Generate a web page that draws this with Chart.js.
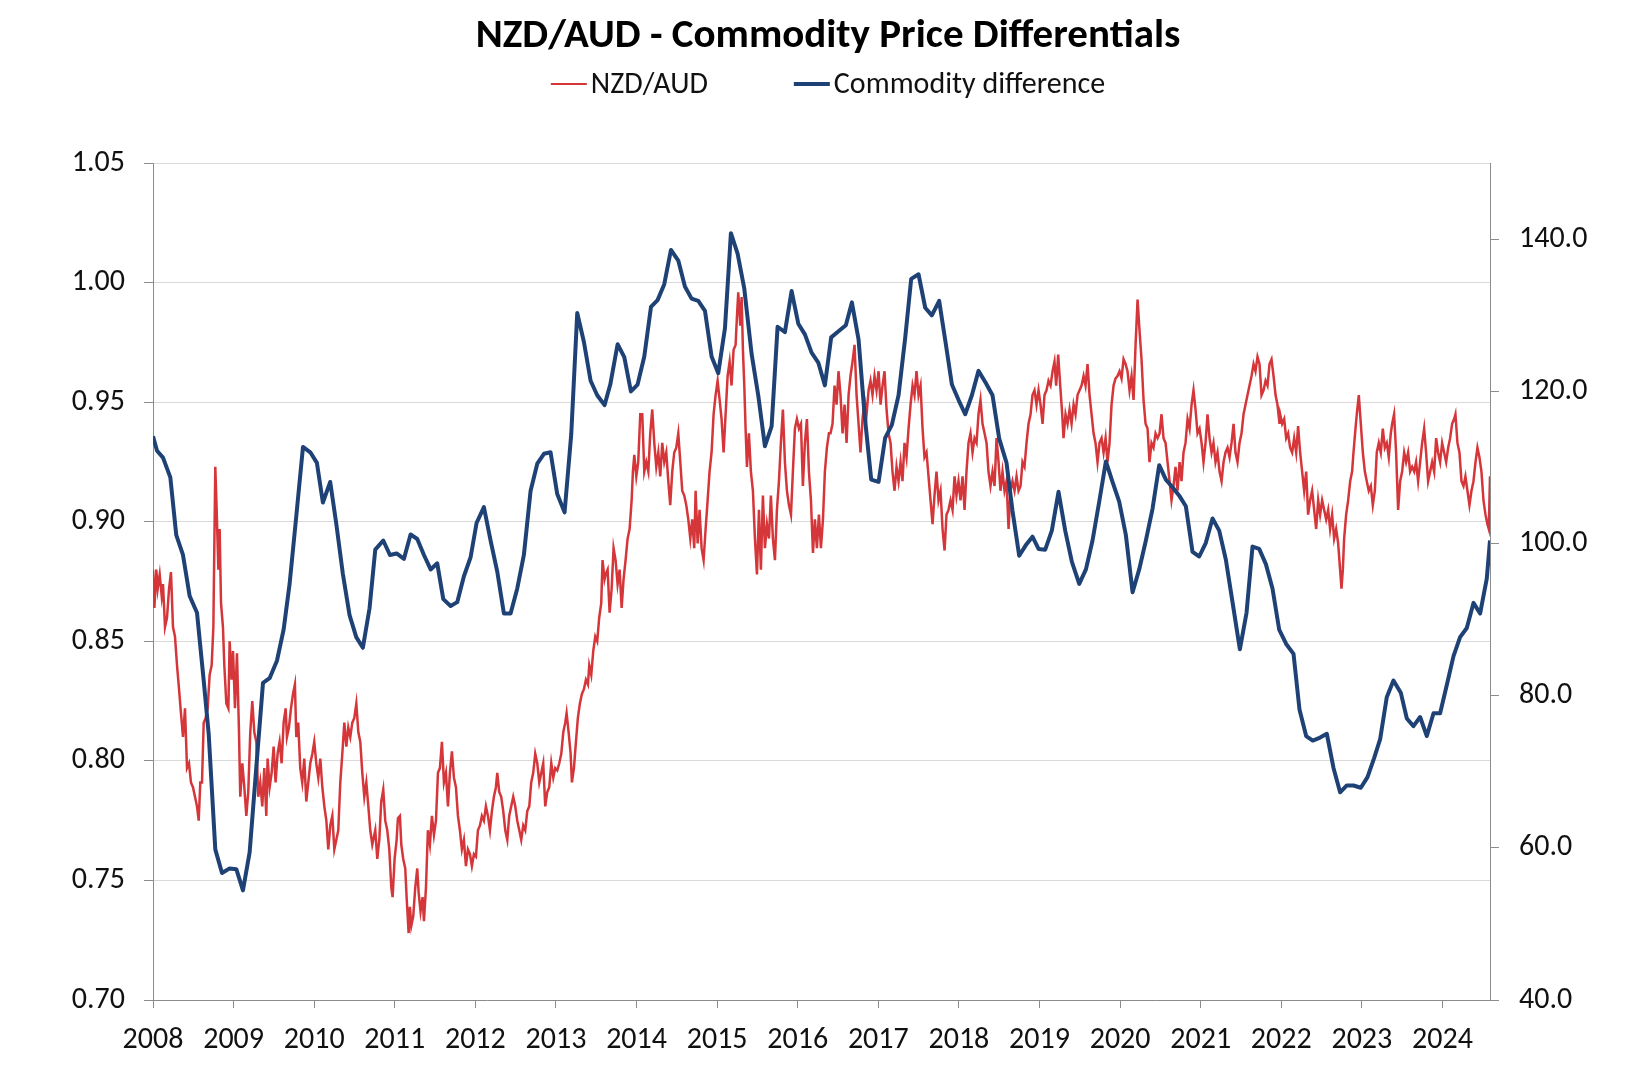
<!DOCTYPE html>
<html>
<head>
<meta charset="utf-8">
<title>NZD/AUD - Commodity Price Differentials</title>
<script src="https://cdn.jsdelivr.net/npm/chart.js@4.4.1/dist/chart.umd.min.js"></script>
<style>
  html, body { margin: 0; padding: 0; background: #fff; }
  #wrap { width: 1640px; height: 1088px; }
</style>
</head>
<body>
<div id="wrap"><canvas id="chart"></canvas></div>
<script>
// NZD/AUD spot (left axis)
const nzdYears = [
  2008.000,2008.017,2008.041,2008.058,2008.083,2008.108,2008.124,2008.149,2008.174,2008.199,2008.223,2008.248,2008.273,2008.298,2008.323,2008.347,2008.372,2008.397,2008.422,2008.447,2008.471,2008.496,2008.521,2008.546,2008.567,2008.587,2008.608,2008.629,2008.653,2008.678,2008.703,2008.728,2008.749,2008.773,2008.790,2008.811,2008.827,2008.844,2008.868,2008.885,2008.910,2008.935,2008.951,2008.976,2008.993,
  2009.017,2009.042,2009.067,2009.083,2009.108,2009.133,2009.158,2009.182,2009.207,2009.232,2009.257,2009.282,2009.306,2009.331,2009.356,2009.381,2009.406,2009.422,2009.447,2009.472,2009.497,2009.521,2009.546,2009.571,2009.596,2009.621,2009.646,2009.662,2009.687,2009.712,2009.737,2009.761,2009.778,2009.802,2009.827,2009.852,2009.877,2009.902,2009.927,2009.952,2009.977,
  2010.001,2010.026,2010.051,2010.076,2010.101,2010.126,2010.151,2010.175,2010.200,2010.225,2010.250,2010.275,2010.299,2010.324,2010.349,2010.374,2010.399,2010.423,2010.448,2010.473,2010.498,2010.523,2010.548,2010.572,2010.597,2010.622,2010.647,2010.672,2010.696,2010.721,2010.746,
  2010.758,2010.783,2010.808,2010.832,2010.857,2010.882,2010.907,2010.932,2010.957,2010.973,2010.998,
  2011.023,2011.039,2011.064,2011.081,2011.105,2011.130,2011.147,2011.172,2011.188,2011.205,2011.229,2011.254,2011.279,2011.296,2011.320,2011.345,2011.362,2011.387,2011.411,2011.436,2011.461,2011.486,2011.511,2011.536,2011.560,2011.585,2011.610,2011.635,2011.660,2011.684,2011.709,2011.734,2011.759,2011.784,2011.808,2011.833,2011.858,2011.883,2011.908,2011.933,2011.957,2011.982,
  2012.007,2012.032,2012.057,2012.081,2012.106,2012.131,2012.156,2012.181,2012.205,2012.230,2012.255,2012.272,2012.296,2012.321,2012.346,2012.371,2012.396,2012.420,2012.445,2012.470,2012.495,2012.520,2012.545,2012.569,2012.594,2012.619,2012.644,2012.669,2012.693,2012.718,2012.743,2012.768,2012.793,2012.818,2012.842,2012.867,2012.892,2012.917,2012.942,2012.967,2012.991,
  2013.016,2013.041,2013.066,2013.091,2013.115,2013.132,2013.157,2013.182,2013.198,2013.223,2013.248,2013.272,2013.297,2013.322,2013.347,2013.372,2013.397,2013.413,2013.438,2013.463,2013.488,2013.512,2013.537,2013.562,2013.578,2013.603,
  2013.616,2013.641,2013.666,2013.691,2013.715,2013.740,2013.765,2013.790,2013.815,2013.839,2013.864,2013.889,2013.914,2013.939,2013.955,2013.972,2013.997,
  2014.021,2014.046,2014.071,2014.096,2014.121,2014.146,2014.170,2014.195,2014.220,2014.245,2014.270,2014.294,2014.319,2014.344,2014.369,2014.394,2014.418,2014.443,2014.468,2014.493,2014.518,2014.543,2014.567,2014.592,2014.617,2014.642,2014.667,2014.691,2014.716,2014.733,2014.758,2014.782,2014.807,2014.832,2014.857,2014.882,2014.906,2014.931,2014.956,2014.981,
  2015.006,2015.031,2015.055,2015.080,2015.105,2015.130,2015.155,2015.179,2015.204,2015.229,2015.246,2015.262,2015.287,2015.304,2015.320,2015.337,2015.353,2015.370,2015.394,2015.419,2015.444,2015.469,2015.494,2015.519,2015.543,2015.568,2015.593,2015.618,2015.643,2015.667,2015.692,2015.717,2015.742,2015.767,2015.791,2015.816,2015.841,2015.866,2015.891,2015.916,2015.940,2015.965,2015.990,
  2016.015,2016.040,2016.064,2016.089,2016.114,2016.139,2016.164,2016.189,2016.213,2016.238,2016.263,2016.288,2016.313,2016.337,2016.362,2016.387,
  2016.407,2016.432,2016.457,2016.482,2016.506,2016.531,2016.556,2016.581,2016.606,2016.631,2016.655,2016.680,2016.705,2016.730,2016.755,2016.779,2016.804,2016.829,2016.854,2016.879,2016.903,2016.928,2016.953,2016.978,
  2017.003,2017.028,2017.052,2017.077,2017.102,2017.127,2017.152,2017.176,2017.201,2017.226,2017.251,2017.276,2017.300,2017.325,2017.350,2017.375,2017.400,2017.425,2017.449,2017.474,2017.499,2017.524,2017.549,2017.573,2017.598,2017.623,2017.648,2017.673,2017.697,2017.722,2017.747,2017.772,2017.797,2017.822,2017.846,2017.871,2017.896,2017.921,2017.946,2017.970,2017.995,
  2018.020,2018.045,2018.070,2018.094,2018.119,2018.144,2018.169,2018.194,2018.219,2018.243,2018.268,2018.293,2018.318,2018.343,2018.367,2018.392,2018.417,2018.442,2018.467,2018.492,2018.516,2018.541,2018.566,2018.591,2018.616,2018.640,2018.665,2018.690,2018.715,2018.740,2018.765,2018.789,2018.814,2018.839,2018.864,2018.889,2018.913,2018.938,2018.963,2018.988,
  2019.013,2019.038,2019.062,2019.087,2019.112,2019.137,2019.162,2019.186,
  2019.207,2019.232,2019.257,2019.282,2019.298,2019.323,2019.348,2019.373,2019.398,2019.423,2019.447,2019.472,2019.497,2019.522,2019.547,2019.571,2019.596,2019.621,2019.646,2019.671,2019.695,2019.720,2019.745,2019.770,2019.795,2019.820,2019.844,2019.869,2019.894,2019.919,2019.944,2019.968,2019.993,
  2020.018,2020.043,2020.068,2020.092,2020.117,2020.142,2020.167,2020.192,2020.217,2020.241,2020.266,2020.291,2020.316,2020.341,2020.365,2020.390,2020.415,2020.440,2020.465,2020.490,2020.514,2020.539,2020.564,2020.589,2020.614,2020.638,2020.663,2020.688,2020.713,2020.738,2020.762,2020.787,2020.812,2020.837,2020.862,2020.887,2020.911,2020.936,2020.961,2020.986,
  2021.011,2021.035,2021.060,2021.085,2021.110,2021.135,2021.159,2021.184,2021.209,2021.234,2021.259,2021.284,2021.308,2021.333,2021.358,2021.383,2021.408,2021.432,2021.457,2021.482,2021.507,2021.532,2021.556,2021.581,2021.606,2021.631,2021.656,2021.680,2021.705,2021.730,2021.755,2021.780,2021.805,2021.829,2021.854,2021.879,2021.904,2021.929,2021.953,2021.978,
  2021.986,
  2022.011,2022.036,2022.061,2022.085,2022.110,2022.135,2022.160,2022.185,2022.209,2022.234,2022.259,2022.284,2022.309,2022.333,2022.358,2022.383,2022.408,2022.433,2022.458,2022.482,2022.507,2022.532,2022.557,2022.582,2022.606,2022.631,2022.656,2022.681,2022.706,2022.730,2022.747,2022.764,2022.780,2022.805,2022.830,2022.855,2022.879,2022.896,2022.921,2022.937,2022.962,2022.987,
  2023.012,2023.037,2023.061,2023.086,2023.111,2023.136,2023.161,2023.185,2023.210,2023.235,2023.260,2023.285,2023.309,2023.334,2023.359,2023.376,2023.400,2023.425,2023.450,2023.475,2023.500,2023.525,2023.549,2023.574,2023.599,2023.624,2023.649,2023.673,2023.698,2023.723,2023.748,2023.773,2023.797,2023.822,2023.847,2023.872,2023.897,2023.922,2023.946,2023.971,2023.996,
  2024.021,2024.046,2024.071,2024.095,2024.120,2024.145,2024.161,2024.186,2024.211,2024.236,2024.261,2024.285,2024.310,2024.335,2024.360,2024.385,2024.410,2024.434,2024.459,2024.484,2024.509,2024.534,2024.558,2024.575,2024.590
];
const nzdValues = [
  0.880,0.864,0.880,0.872,0.878,0.869,0.874,0.856,0.860,0.872,0.879,0.856,0.852,0.840,0.830,0.820,0.810,0.822,0.797,0.799,0.791,0.789,0.785,0.781,0.775,0.791,0.791,0.816,0.818,0.822,0.836,0.840,0.856,0.923,0.905,0.880,0.897,0.866,0.856,0.840,0.824,0.822,0.850,0.834,0.846,
  0.822,0.845,0.812,0.785,0.799,0.789,0.777,0.787,0.812,0.825,0.812,0.808,0.785,0.791,0.781,0.797,0.777,0.801,0.789,0.795,0.806,0.791,0.803,0.808,0.799,0.816,0.822,0.810,0.814,0.822,0.828,0.832,0.810,0.816,0.797,0.791,0.801,0.783,0.791,0.799,0.803,
  0.808,0.799,0.793,0.801,0.789,0.781,0.775,0.763,0.773,0.777,0.763,0.767,0.771,0.791,0.803,0.816,0.806,0.814,0.810,0.816,0.818,0.824,0.812,0.808,0.795,0.785,0.791,0.781,0.771,0.765,0.769,
  0.771,0.759,0.767,0.783,0.788,0.775,0.771,0.763,0.747,0.743,0.759,
  0.767,0.776,0.777,0.765,0.759,0.755,0.743,0.728,0.739,0.731,0.735,0.747,0.755,0.745,0.737,0.743,0.733,0.747,0.771,0.765,0.777,0.769,0.775,0.795,0.797,0.808,0.791,0.795,0.781,0.795,0.804,0.793,0.789,0.777,0.771,0.763,0.767,0.756,0.763,0.761,0.756,0.761,
  0.760,0.771,0.773,0.777,0.775,0.781,0.777,0.771,0.779,0.785,0.789,0.795,0.787,0.785,0.779,0.771,0.767,0.777,0.781,0.785,0.781,0.775,0.771,0.767,0.773,0.771,0.779,0.781,0.791,0.795,0.803,0.799,0.791,0.795,0.799,0.781,0.787,0.789,0.799,0.793,0.797,
  0.796,0.799,0.803,0.812,0.816,0.820,0.812,0.803,0.791,0.797,0.808,0.818,0.824,0.828,0.830,0.834,0.832,0.840,0.836,0.846,0.852,0.850,0.860,0.866,0.884,0.876,
  0.878,0.880,0.862,0.872,0.889,0.884,0.874,0.880,0.864,0.876,0.884,0.893,0.897,0.909,0.921,0.928,0.919,
  0.925,0.945,0.945,0.921,0.925,0.921,0.937,0.947,0.933,0.923,0.929,0.919,0.933,0.925,0.929,0.917,0.907,0.921,0.929,0.931,0.937,0.925,0.913,0.911,0.907,0.901,0.893,0.901,0.889,0.913,0.891,0.905,0.889,0.884,0.897,0.909,0.921,0.929,0.945,0.953,
  0.959,0.951,0.943,0.929,0.945,0.961,0.967,0.957,0.972,0.974,0.986,0.996,0.982,0.994,0.972,0.957,0.939,0.923,0.937,0.921,0.913,0.893,0.878,0.905,0.880,0.911,0.889,0.899,0.893,0.911,0.893,0.884,0.905,0.917,0.933,0.947,0.925,0.913,0.907,0.903,0.921,0.939,0.943,
  0.939,0.941,0.915,0.933,0.943,0.921,0.909,0.887,0.901,0.889,0.903,0.889,0.901,0.921,0.931,0.937,
  0.937,0.941,0.957,0.949,0.963,0.953,0.937,0.949,0.933,0.953,0.961,0.967,0.974,0.953,0.941,0.929,0.943,0.951,0.945,0.955,0.959,0.953,0.961,0.955,
  0.963,0.949,0.957,0.963,0.947,0.937,0.933,0.921,0.913,0.923,0.917,0.925,0.917,0.933,0.927,0.939,0.949,0.957,0.953,0.963,0.953,0.957,0.939,0.927,0.929,0.919,0.909,0.899,0.911,0.921,0.909,0.913,0.897,0.888,0.903,0.905,0.909,0.905,0.919,0.911,0.917,
  0.909,0.919,0.905,0.921,0.933,0.937,0.929,0.935,0.933,0.945,0.951,0.941,0.937,0.933,0.921,0.915,0.921,0.915,0.935,0.925,0.913,0.921,0.913,0.917,0.897,0.913,0.917,0.913,0.919,0.913,0.915,0.925,0.923,0.933,0.941,0.945,0.953,0.955,0.949,0.955,
  0.949,0.941,0.953,0.955,0.959,0.957,0.963,0.967,
  0.957,0.970,0.957,0.945,0.935,0.945,0.941,0.947,0.941,0.949,0.945,0.953,0.955,0.957,0.961,0.957,0.966,0.953,0.945,0.937,0.933,0.925,0.933,0.935,0.929,0.935,0.925,0.933,0.949,0.957,0.960,0.961,0.963,
  0.960,0.968,0.966,0.963,0.955,0.961,0.951,0.974,0.993,0.980,0.968,0.951,0.941,0.939,0.925,0.933,0.931,0.937,0.935,0.937,0.945,0.935,0.933,0.925,0.917,0.909,0.915,0.923,0.913,0.925,0.917,0.929,0.933,0.943,0.939,0.949,0.955,0.947,0.937,0.939,
  0.933,0.925,0.933,0.945,0.935,0.929,0.933,0.925,0.929,0.921,0.917,0.925,0.929,0.931,0.927,0.933,0.941,0.929,0.925,0.933,0.937,0.945,0.949,0.953,0.957,0.961,0.966,0.963,0.969,0.966,0.953,0.955,0.959,0.957,0.966,0.968,0.961,0.953,0.949,0.941,
  0.945,
  0.941,0.943,0.935,0.937,0.931,0.929,0.935,0.929,0.940,0.929,0.921,0.913,0.921,0.903,0.909,0.913,0.905,0.897,0.909,0.903,0.909,0.905,0.901,0.905,0.897,0.903,0.893,0.897,0.891,0.880,0.872,0.880,0.893,0.903,0.909,0.917,0.921,0.929,0.939,0.945,0.953,0.941,
  0.929,0.921,0.917,0.913,0.915,0.907,0.913,0.929,0.933,0.929,0.939,0.931,0.933,0.927,0.937,0.941,0.945,0.929,0.905,0.917,0.921,0.929,0.925,0.929,0.921,0.923,0.921,0.925,0.917,0.925,0.933,0.939,0.929,0.917,0.921,0.925,0.921,0.935,0.929,0.925,0.933,
  0.929,0.925,0.931,0.935,0.941,0.943,0.945,0.933,0.929,0.917,0.915,0.919,0.913,0.907,0.913,0.917,0.925,0.931,0.927,0.921,0.909,0.903,0.899,0.897,0.919
];

// Commodity price difference index (right axis), roughly monthly
const commodityYears = [
  2008.000,2008.050,2008.124,2008.215,2008.289,2008.372,2008.455,2008.546,2008.629,2008.691,2008.773,2008.856,2008.951,
  2009.034,2009.116,2009.199,2009.282,2009.365,2009.447,2009.538,2009.621,2009.695,2009.778,2009.861,2009.952,
  2010.034,2010.108,2010.199,2010.273,2010.356,2010.439,2010.522,2010.604,2010.687,2010.758,2010.857,2010.940,
  2011.023,2011.114,2011.196,2011.279,2011.362,2011.445,2011.527,2011.602,2011.693,2011.775,2011.858,2011.941,
  2012.015,2012.106,2012.189,2012.272,2012.354,2012.437,2012.520,2012.602,2012.685,2012.768,2012.851,2012.933,
  2013.016,2013.107,2013.190,2013.264,2013.347,2013.430,2013.512,2013.603,2013.674,2013.765,2013.848,2013.930,
  2014.013,2014.096,2014.179,2014.261,2014.344,2014.427,2014.518,2014.600,2014.683,2014.766,2014.849,2014.931,
  2015.014,2015.097,2015.171,2015.254,2015.337,2015.428,2015.510,2015.593,2015.676,2015.750,2015.841,2015.924,
  2016.007,2016.089,2016.172,2016.255,2016.337,2016.415,2016.506,2016.597,2016.672,2016.755,2016.829,2016.912,
  2017.003,2017.085,2017.168,2017.251,2017.334,2017.408,2017.499,2017.582,2017.664,2017.755,2017.838,2017.913,2017.995,
  2018.078,2018.161,2018.243,2018.334,2018.417,2018.500,2018.591,2018.665,2018.748,2018.831,2018.913,2018.988,
  2019.071,2019.153,2019.236,2019.319,2019.402,2019.493,2019.576,2019.658,2019.741,2019.824,2019.906,2019.989,
  2020.072,2020.155,2020.237,2020.320,2020.403,2020.485,2020.568,2020.651,2020.734,2020.816,2020.899,2020.982,
  2021.064,2021.147,2021.230,2021.312,2021.395,2021.486,2021.569,2021.643,2021.726,2021.809,2021.891,2021.974,
  2022.061,2022.152,2022.226,2022.309,2022.391,2022.482,2022.565,2022.648,2022.730,2022.813,2022.896,2022.987,
  2023.070,2023.152,2023.227,2023.309,2023.392,2023.483,2023.558,2023.640,2023.723,2023.806,2023.889,2023.971,
  2024.054,2024.137,2024.219,2024.302,2024.385,2024.467,2024.550,2024.590
];
const commodityValues = [
  114.1,112.2,111.3,108.7,101.1,98.5,93.1,90.9,82.0,75.0,59.8,56.7,57.3,
  57.2,54.4,59.4,70.6,81.7,82.3,84.6,88.7,94.7,103.6,112.7,112.0,
  110.6,105.4,108.1,102.7,96.0,90.6,87.7,86.3,91.5,99.2,100.4,98.5,
  98.7,98.0,101.2,100.6,98.5,96.6,97.4,92.7,91.8,92.3,95.7,98.2,
  102.7,104.8,100.4,96.3,90.8,90.8,94.1,98.5,106.9,110.5,111.8,112.0,
  106.5,104.1,114.4,130.3,126.5,121.4,119.5,118.2,120.9,126.2,124.5,120.0,
  120.9,124.6,131.1,132.0,134.1,138.6,137.2,133.8,132.2,131.9,130.6,124.6,
  122.4,128.3,140.8,138.1,133.5,124.9,119.5,112.8,115.4,128.5,127.8,133.2,
  128.9,127.5,125.1,123.8,120.8,127.1,127.9,128.7,131.7,126.8,117.0,108.4,
  108.1,113.9,115.6,119.5,127.1,134.8,135.4,131.0,130.0,131.9,126.2,120.9,118.9,
  117.0,119.5,122.7,121.1,119.5,113.8,110.6,104.3,98.4,99.8,100.9,99.3,
  99.2,101.7,106.8,101.7,97.6,94.7,96.6,100.4,105.5,110.8,108.1,105.5,
  101.1,93.6,96.6,100.4,104.6,110.3,108.4,107.4,106.3,104.9,98.9,98.3,
  100.1,103.3,101.7,97.9,92.3,86.1,90.9,99.6,99.3,97.3,94.1,88.7,
  86.8,85.5,78.2,74.7,74.1,74.5,75.0,70.5,67.3,68.2,68.2,67.9,
  69.3,71.8,74.3,79.8,82.0,80.4,77.0,76.0,77.2,74.7,77.7,77.7,
  81.4,85.2,87.7,88.9,92.2,90.8,95.4,100.4
];

const yearLabels = [2008, 2009, 2010, 2011, 2012, 2013, 2014, 2015, 2016, 2017, 2018, 2019, 2020, 2021, 2022, 2023, 2024];
const leftTicks = [0.70, 0.75, 0.80, 0.85, 0.90, 0.95, 1.00, 1.05];
const rightTicks = [40, 60, 80, 100, 120, 140];

const FONT = 'Carlito, Lato, sans-serif';
const RED = '#d5363a';
const BLUE = '#1f4276';
const AXIS = '#8c8c8c';

Chart.defaults.font.family = FONT;
Chart.defaults.color = '#111';

// legend drawn as short line samples next to the labels, like the original
const lineLegend = {
  id: 'lineLegend',
  afterDraw(chart) {
    const ctx = chart.ctx;
    const items = chart.data.datasets.map(ds => ({ text: ds.label, color: ds.borderColor, width: ds.legendWidth }));
    ctx.save();
    ctx.font = '30px ' + FONT;
    ctx.textBaseline = 'middle';
    const sample = 36, gap = 4, spacing = 86;
    const widths = items.map(it => sample + gap + ctx.measureText(it.text).width);
    const total = widths.reduce((a, b) => a + b, 0) + spacing * (items.length - 1);
    let x = (chart.titleBlock.left + chart.titleBlock.right) / 2 - total / 2;
    const y = 84;
    items.forEach((it, i) => {
      ctx.strokeStyle = it.color;
      ctx.lineWidth = it.width;
      ctx.beginPath();
      ctx.moveTo(x, y);
      ctx.lineTo(x + sample, y);
      ctx.stroke();
      ctx.fillStyle = '#111';
      ctx.fillText(it.text, x + sample + gap, y + 1);
      x += widths[i] + spacing;
    });
    ctx.restore();
  }
};

const chart = new Chart(document.getElementById('chart'), {
  type: 'line',
  data: {
    datasets: [
      {
        label: 'NZD/AUD',
        data: nzdYears.map((x, i) => ({ x, y: nzdValues[i] })),
        yAxisID: 'y',
        borderColor: RED,
        borderWidth: 2.5,
        legendWidth: 2,
        pointRadius: 0,
        tension: 0,
        order: 2
      },
      {
        label: 'Commodity difference',
        data: commodityYears.map((x, i) => ({ x, y: commodityValues[i] })),
        yAxisID: 'y2',
        borderColor: BLUE,
        borderWidth: 4,
        legendWidth: 4,
        pointRadius: 0,
        tension: 0,
        borderJoinStyle: 'round',
        order: 1
      }
    ]
  },
  options: {
    responsive: true,
    maintainAspectRatio: false,
    animation: false,
    layout: { padding: { left: 16, right: 0, top: 0, bottom: 0 } },
    plugins: {
      legend: { display: false },
      tooltip: { enabled: false },
      title: {
        display: true,
        text: 'NZD/AUD - Commodity Price Differentials',
        color: '#000',
        font: { size: 41, weight: 'bold' },
        padding: { top: 12, bottom: 102 }
      }
    },
    scales: {
      x: {
        type: 'linear',
        min: 2008,
        max: 2024.59,
        afterBuildTicks: axis => { axis.ticks = yearLabels.map(v => ({ value: v })); },
        afterFit: axis => { axis.height = 88; },
        ticks: { callback: v => String(v), font: { size: 30 }, padding: 14, maxRotation: 0, autoSkip: false },
        grid: { drawOnChartArea: false, tickLength: 8, color: AXIS },
        border: { color: AXIS }
      },
      y: {
        position: 'left',
        min: 0.70,
        max: 1.05,
        afterBuildTicks: axis => { axis.ticks = leftTicks.map(v => ({ value: v })); },
        afterFit: axis => { axis.width = 137; },
        ticks: { callback: v => v.toFixed(2), font: { size: 30 }, padding: 19 },
        grid: { color: '#d9d9d9', tickColor: AXIS, tickLength: 9 },
        border: { color: AXIS }
      },
      y2: {
        position: 'right',
        min: 40,
        max: 150,
        afterBuildTicks: axis => { axis.ticks = rightTicks.map(v => ({ value: v })); },
        afterFit: axis => { axis.width = 150; },
        ticks: { callback: v => v.toFixed(1), font: { size: 30 }, padding: 20 },
        grid: { drawOnChartArea: false, tickLength: 9, color: AXIS },
        border: { color: AXIS }
      }
    }
  },
  plugins: [lineLegend]
});
</script>
</body>
</html>
